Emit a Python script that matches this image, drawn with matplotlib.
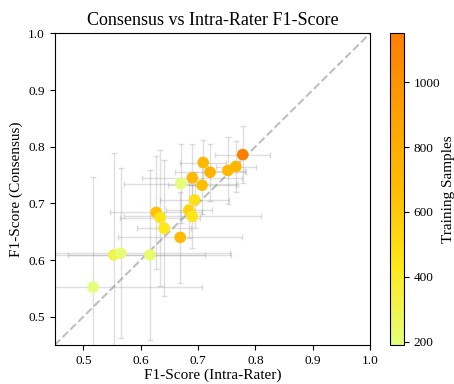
import matplotlib
matplotlib.use("Agg")
import matplotlib.pyplot as plt
import numpy as np

plt.rcParams['font.family'] = ['Liberation Serif', 'DejaVu Serif']

# data
intra_f1 = [0.517, 0.553, 0.565, 0.616, 0.669, 0.641, 0.627, 0.634, 0.684, 0.690,
            0.694, 0.670, 0.707, 0.690, 0.709, 0.721, 0.752, 0.766, 0.778]
consensus_f1 = [0.552, 0.609, 0.612, 0.609, 0.640, 0.656, 0.684, 0.675, 0.688, 0.677,
                0.706, 0.735, 0.732, 0.745, 0.772, 0.755, 0.758, 0.765, 0.786]
intra_err = [0.19, 0.16, 0.19, 0.142, 0.108, 0.047, 0.08, 0.07, 0.04, 0.12,
             0.06, 0.10, 0.06, 0.087, 0.04, 0.062, 0.03, 0.035, 0.048]
consensus_err = [0.195, 0.18, 0.15, 0.15, 0.08, 0.12, 0.10, 0.12, 0.05, 0.056,
                 0.05, 0.07, 0.05, 0.06, 0.04, 0.05, 0.06, 0.045, 0.05]
training_samples = [190, 300, 210, 230, 680, 430, 650, 450, 540, 440,
                    480, 200, 660, 700, 700, 760, 700, 740, 1150]

fig = plt.figure(figsize=(4.54, 3.84), dpi=100)
ax = fig.add_axes([0.1205, 0.1016, 0.6945, 0.8114])
cax = fig.add_axes([0.859, 0.1016, 0.031, 0.8114])

ax.errorbar(intra_f1, consensus_f1, xerr=intra_err, yerr=consensus_err,
            fmt='none', ecolor='gray', alpha=0.25, capsize=2, elinewidth=1, zorder=1)
ax.plot([0.45, 1.0], [0.45, 1.0], linestyle='--', color='gray', alpha=0.5,
        linewidth=1.5, zorder=2)
sc = ax.scatter(intra_f1, consensus_f1, c=training_samples, cmap='Wistia',
                s=70, zorder=3, edgecolors='none')

ax.set_xlim(0.45, 1.0)
ax.set_ylim(0.45, 1.0)
ax.set_xticks([0.5, 0.6, 0.7, 0.8, 0.9, 1.0])
ax.set_yticks([0.5, 0.6, 0.7, 0.8, 0.9, 1.0])
ax.set_xlabel('F1-Score (Intra-Rater)', fontsize=11, labelpad=1)
ax.set_ylabel('F1-Score (Consensus)', fontsize=11)
ax.set_title('Consensus vs Intra-Rater F1-Score', fontsize=13)
ax.tick_params(labelsize=9.5)

cb = fig.colorbar(sc, cax=cax)
cb.set_label('Training Samples', fontsize=11, labelpad=1)
cb.ax.tick_params(labelsize=9.5)

fig.savefig('out.png', dpi=100)
